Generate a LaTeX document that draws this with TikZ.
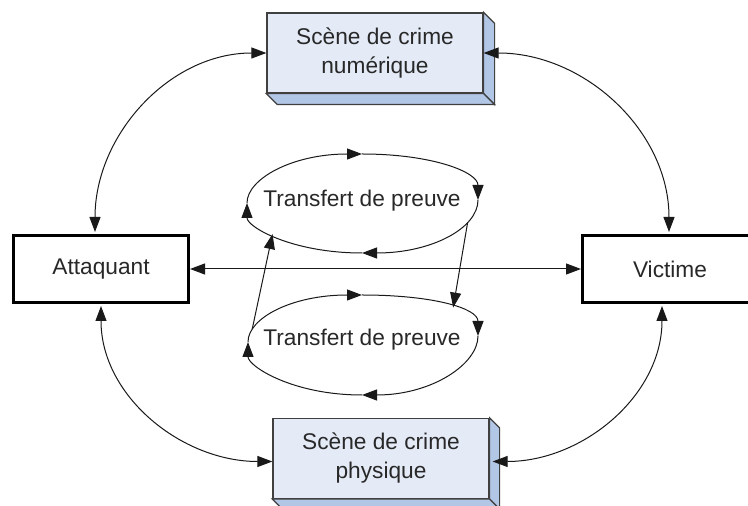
\documentclass[tikz,border=0pt]{standalone}
\usepackage{fontspec}
\setmainfont{Liberation Sans}
\usetikzlibrary{arrows.meta,calc}
\definecolor{frontblue}{RGB}{228,235,247}
\definecolor{sideblue}{RGB}{178,198,229}
\definecolor{edgegray}{RGB}{64,64,64}
\definecolor{inkgray}{RGB}{40,40,40}
% right and bottom faces of a raised box: node name, depth
\newcommand{\extrudebox}[2]{%
  \filldraw[face] (#1.north east) -- ++(#2,-#2) -- ([shift={(#2,-#2)}]#1.south east) -- (#1.south east) -- cycle;
  \filldraw[face] (#1.south west) -- (#1.south east) -- ([shift={(#2,-#2)}]#1.south east) -- ([shift={(#2,-#2)}]#1.south west) -- cycle;}
\begin{document}
\begin{tikzpicture}[x=1pt,y=1pt,
  font=\fontsize{22.7}{29}\selectfont,
  >={Triangle[length=15pt,width=11pt]},
  scenebox/.style={draw=edgegray,line width=1.2pt,fill=frontblue,text=inkgray,align=center,
    minimum width=216pt,minimum height=80pt,inner sep=0pt},
  face/.style={draw=edgegray,line width=1.2pt,fill=sideblue},
  actor/.style={draw=black,line width=3pt,minimum width=175pt,minimum height=67pt,
    text=inkgray,inner sep=0pt},
  looptext/.style={text=inkgray,inner sep=0pt},
  conn/.style={draw=black!90,line width=1pt},
  flow/.style={conn,->}
]
\useasboundingbox (0,0) rectangle (748,506);
\clip (0,0) rectangle (748,506);

% crime scenes
\node[scenebox] (num) at (375,453) {Scène de crime\\numérique};
\extrudebox{num}{11}
\node[scenebox] (phy) at (381,47.5) {Scène de crime\\physique};
\extrudebox{phy}{10}

% actors
\node[actor] (att) at (101,237) {Attaquant};
\node[actor] (vic) at (670,237) {Victime};

% evidence transfer loops
\node[looptext] (tt) at (362,305) {Transfert de preuve};
\coordinate (ttL) at ($(tt)+(-115,-2)$);
\coordinate (ttT) at ($(tt)+(0,47)$);
\coordinate (ttR) at ($(tt)+(116,1)$);
\coordinate (ttB) at ($(tt)+(0,-52)$);
\draw[flow] (ttL) to[out=90,in=180,out distance=24pt,in distance=70pt] (ttT);
\draw[flow] (ttT) to[out=0,in=90,out distance=70pt,in distance=28pt] (ttR);
\draw[flow] (ttR) to[out=-90,in=0,out distance=28pt,in distance=70pt] coordinate[pos=0.28] (ttDown) (ttB);
\draw[flow] (ttB) to[out=180,in=-90,out distance=70pt,in distance=24pt] coordinate[pos=0.55] (ttUp) (ttL);

\node[looptext] (tb) at (362,166) {Transfert de preuve};
\coordinate (tbL) at ($(tb)+(-114,-2)$);
\coordinate (tbT) at ($(tb)+(0,45)$);
\coordinate (tbR) at ($(tb)+(116,4)$);
\coordinate (tbB) at ($(tb)+(0,-55)$);
\draw[flow] (tbL) to[out=90,in=180,out distance=24pt,in distance=70pt] coordinate[pos=0.18] (tbUp) (tbT);
\draw[flow] (tbT) to[out=0,in=90,out distance=70pt,in distance=28pt] coordinate[pos=0.56] (tbDown) (tbR);
\draw[flow] (tbR) to[out=-90,in=0,out distance=28pt,in distance=70pt] (tbB);
\draw[flow] (tbB) to[out=180,in=-90,out distance=70pt,in distance=24pt] (tbL);

% links between the two loops
\draw[flow] (tbUp) -- (ttUp);
\draw[flow] (ttDown) -- (tbDown);

% actor links
\draw[conn,<->] (att.east) -- (vic.west);
\draw[conn,<->] ([shift={(-6,2)}]att.north) to[out=90,in=180] (num.west);
\draw[conn,<->] (num.east) to[out=0,in=90] ([shift={(-1,2)}]vic.north);
\draw[conn,<->] ([yshift=-2]att.south) to[out=-90,in=180] ([yshift=-3]phy.west);
\draw[conn,<->] ([shift={(-8,-2)}]vic.south) to[out=-90,in=0] ([shift={(3,-3)}]phy.east);
\end{tikzpicture}
\end{document}
